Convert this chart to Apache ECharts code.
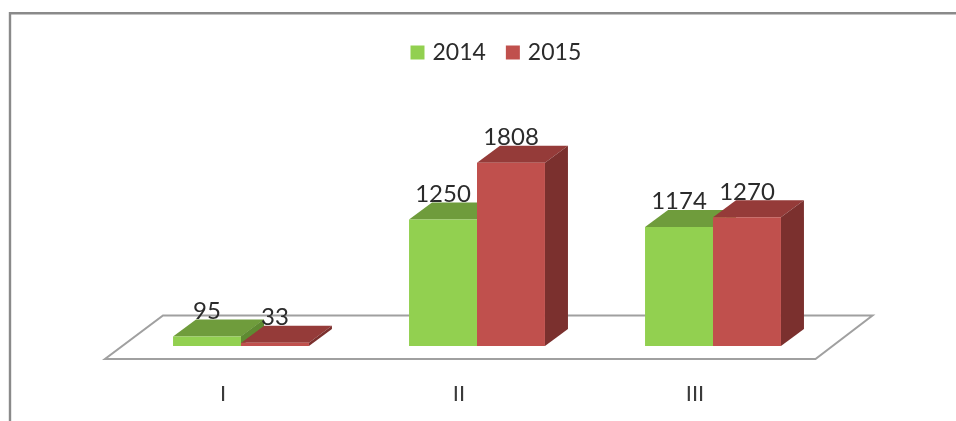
<!DOCTYPE html>
<html>
<head>
<meta charset="utf-8">
<style>html,body{margin:0;padding:0;background:#fff}#c{width:956px;height:421px}</style>
<script src="https://cdn.jsdelivr.net/npm/echarts@6/dist/echarts.min.js"></script>
</head>
<body>
<div id="c"></div>
<script>
const categories = ['I', 'II', 'III'];
const values2014 = [95, 1250, 1174];
const values2015 = [33, 1808, 1270];

const FONT = 'Lato';
const TEXT = '#2b2b2b';
const GREEN = {front: '#92D050', top: '#6F9C3C', side: '#5F8A32'};
const RED = {front: '#C0504D', top: '#953B39', side: '#7B302E'};
const SHIFT = [18, -13];   // bar row sits this far behind the floor's front edge
const DEPTH = [23, -17];   // bar depth on screen

function poly(points, fill, z2) {
  return {type: 'polygon', z2: z2, shape: {points: points}, style: {fill: fill}};
}

function barRenderer(pal, dir, own, other) {
  return function (params, api) {
    const i = api.value(0), v = api.value(1);
    const band = api.size([1, 0])[0];
    const w = band * 0.288;
    const p0 = api.coord([i, 0]);
    const p1 = api.coord([i, v]);
    const xc = p0[0] + SHIFT[0];
    const xa = dir < 0 ? xc - w : xc;
    const xb = xa + w;
    const yb = p0[1] + SHIFT[1];
    const yt = p1[1] + SHIFT[1];
    const dx = DEPTH[0], dy = DEPTH[1];
    const base = dir < 0 ? 1 : 5;
    const kids = [
      poly([[xa, yt], [xb, yt], [xb + dx, yt + dy], [xa + dx, yt + dy]], pal.top, base),
      poly([[xb, yt], [xb + dx, yt + dy], [xb + dx, yb + dy], [xb, yb]], pal.side, base),
      poly([[xa, yt], [xb, yt], [xb, yb], [xa, yb]], pal.front, base + 1)
    ];
    // left bar's side stays visible above a shorter right-hand neighbour
    if (dir < 0 && other[i] < own[i]) {
      const yo = api.coord([i, other[i]])[1] + SHIFT[1];
      kids.push(poly([[xb, yt], [xb + dx, yt + dy], [xb + dx, yo + dy], [xb, yo]], pal.side, 8));
    }
    kids.push({
      type: 'text', z2: 20,
      style: {
        text: String(v), x: (xa + xb) / 2, y: yt - 25.5,
        align: 'center', verticalAlign: 'middle',
        fontFamily: FONT, fontSize: 24, fill: TEXT
      }
    });
    return {type: 'group', children: kids};
  };
}

function floorRenderer(params, api) {
  const c = params.coordSys;
  const l = c.x, r = c.x + c.width + 2.5, b = c.y + c.height;
  return {
    type: 'polygon', z2: 0,
    shape: {points: [[l, b], [r, b], [r + 57, b - 43.5], [l + 58, b - 43.5]]},
    style: {fill: '#fff', stroke: '#A0A0A0', lineWidth: 2}
  };
}

const chart = echarts.init(document.getElementById('c'));
chart.setOption({
  animation: false,
  backgroundColor: '#fff',
  grid: {left: 105, width: 708, top: 156.4, height: 202.6},
  legend: {
    left: 405.5, top: 36, itemWidth: 14, itemHeight: 14, itemGap: 20,
    icon: 'rect', data: ['2014', '2015'],
    textStyle: {fontFamily: FONT, fontSize: 23, color: TEXT, padding: [0, 0, 0, 3]}
  },
  xAxis: {
    type: 'category', data: categories,
    axisLine: {show: false}, axisTick: {show: false}, splitLine: {show: false},
    axisLabel: {margin: 24, fontFamily: FONT, fontSize: 22, color: '#3a3a3a'}
  },
  yAxis: {type: 'value', min: 0, max: 2000, show: false},
  graphic: [{
    type: 'polyline', silent: true,
    shape: {points: [[10, 421], [10, 13.2], [956, 13.2]]},
    style: {fill: null, stroke: '#8A8A8A', lineWidth: 2.4}
  }],
  series: [
    {
      type: 'custom', name: 'floor', silent: true, renderItem: floorRenderer,
      data: [[0, 0]], encode: {x: 0, y: 1}
    },
    {
      type: 'custom', name: '2014', silent: true,
      itemStyle: {color: GREEN.front},
      renderItem: barRenderer(GREEN, -1, values2014, values2015),
      data: values2014.map((v, i) => [i, v]), encode: {x: 0, y: 1}
    },
    {
      type: 'custom', name: '2015', silent: true,
      itemStyle: {color: RED.front},
      renderItem: barRenderer(RED, 1, values2015, values2014),
      data: values2015.map((v, i) => [i, v]), encode: {x: 0, y: 1}
    }
  ]
});
</script>
</body>
</html>
